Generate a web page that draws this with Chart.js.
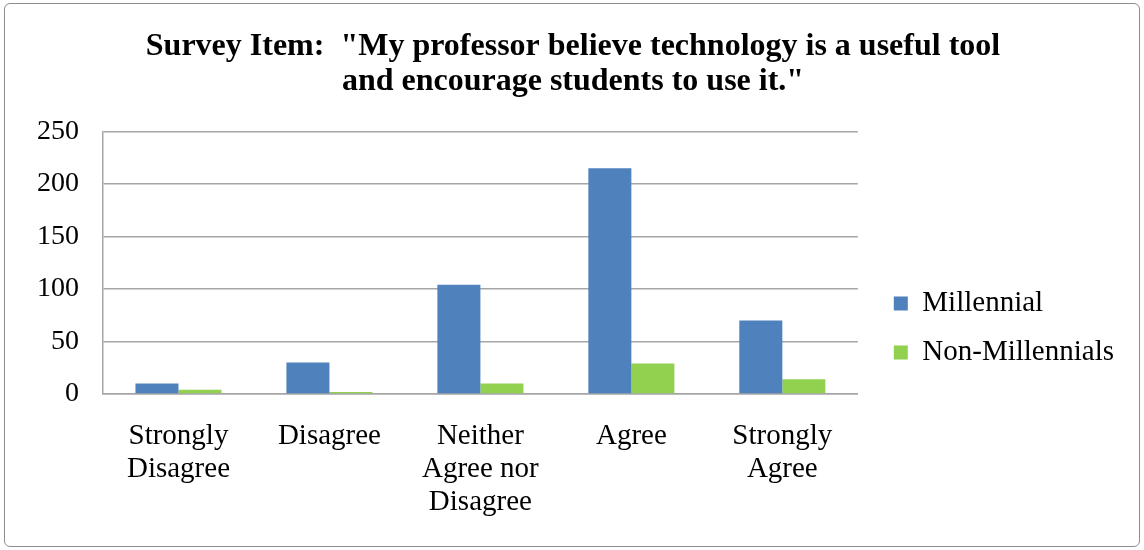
<!DOCTYPE html>
<html>
<head>
<meta charset="utf-8">
<script src="https://cdn.jsdelivr.net/npm/chart.js@4/dist/chart.umd.min.js"></script>
<style>
  html, body { margin: 0; padding: 0; background: #fff; }
  #wrap { position: relative; width: 1144px; height: 550px; }
  #frame { position: absolute; left: 4px; top: 3px; width: 1134px; height: 542px;
           border: 1.5px solid #8c8c8c; border-radius: 6px; pointer-events: none; }
</style>
</head>
<body>
<div id="wrap">
  <canvas id="surveyCanvas" width="1144" height="550"></canvas>
  <div id="frame"></div>
</div>
<script>
// categories and series
var categories = [
  ["Strongly", "Disagree"],
  ["Disagree"],
  ["Neither", "Agree nor", "Disagree"],
  ["Agree"],
  ["Strongly", "Agree"]
];
var millennial = [10, 30, 104, 215, 70];
var nonMillennials = [4, 2, 10, 29, 14];
var seriesNames = ["Millennial", "Non-Millennials"];
var titleLines = ['Survey Item:  "My professor believe technology is a useful tool', 'and encourage students to use it."'];

var serif = "'Liberation Serif', 'Times New Roman', serif";
Chart.defaults.font.family = serif;
Chart.defaults.color = "#000";

// nudge legend and title so they sit like the original
var boxShift = {
    id: 'boxShift',
    afterLayout: function(chart) {
        var lg = chart.legend;
        if (lg) {
            lg.left += 16; lg.right += 16;
            lg.top += 53; lg.bottom += 53;
        }
        var tt = chart.titleBlock;
        if (tt) {
            tt.left += 19; tt.right += 19;
        }
    }
};

var canvas = document.getElementById("surveyCanvas");

var surveyChart = new Chart(canvas, {
    type: 'bar',
    data: {
        labels: categories,
        datasets: [{
            label: seriesNames[0],
            data: millennial,
            backgroundColor: "#4F81BD",
            categoryPercentage: 0.57,
            barPercentage: 1.0
        }, {
            label: seriesNames[1],
            data: nonMillennials,
            backgroundColor: "#92D050",
            categoryPercentage: 0.57,
            barPercentage: 1.0
        }]
    },
    plugins: [boxShift],
    options: {
        responsive: false,
        animation: false,
        layout: { padding: { left: 0, right: 36, top: 0, bottom: 0 } },
        plugins: {
            title: {
                display: true,
                text: titleLines,
                color: "#000",
                font: { size: 32, weight: 'bold', family: serif, lineHeight: 1.1 },
                padding: { top: 29, bottom: 32 }
            },
            legend: {
                display: true,
                position: 'right',
                labels: {
                    boxWidth: 14,
                    boxHeight: 14,
                    padding: 20,
                    color: "#000",
                    font: { size: 29, family: serif }
                }
            },
            tooltip: { enabled: false }
        },
        scales: {
            x: {
                grid: { display: false, drawTicks: false },
                border: { color: "#a6a6a6", width: 1.5 },
                ticks: {
                    padding: 26,
                    maxRotation: 0,
                    autoSkip: false,
                    font: { size: 29, lineHeight: 1.14 }
                },
                afterFit: function(scale) { scale.height = 156; }
            },
            y: {
                min: 0,
                max: 250,
                ticks: {
                    stepSize: 50,
                    padding: 24,
                    font: { size: 28 }
                },
                grid: { color: "#a6a6a6", lineWidth: 1.5, drawTicks: false },
                border: { color: "#a6a6a6", width: 1.5 },
                afterFit: function(scale) { scale.width = 103; }
            }
        }
    }
});
</script>
</body>
</html>
